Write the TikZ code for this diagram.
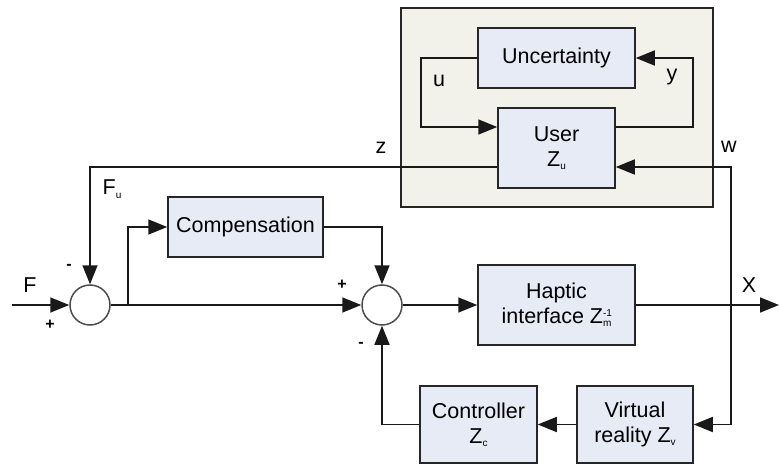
\documentclass[tikz,border=0pt]{standalone}
\usepackage{fontspec}
\setmainfont{Liberation Sans}
\usetikzlibrary{arrows.meta}
\definecolor{boxfill}{RGB}{230,235,246}
\definecolor{outerfill}{RGB}{242,242,234}
\newcommand{\mysb}[1]{\raisebox{-0.3ex}{\fontsize{10}{11}\selectfont #1}}
\newcommand{\mysbsp}[2]{\raisebox{-0.3ex}{\fontsize{10}{11}\selectfont\rlap{\raisebox{1.05em}{#2}}#1}}
\tikzset{
  blk/.style={draw=black!85, line width=1.5pt, fill=boxfill, inner sep=0pt, align=center, font=\fontsize{21.5}{25}\selectfont},
  sumnode/.style={circle, draw=black!70, line width=1.5pt, fill=white, minimum size=40pt, inner sep=0pt},
  conn/.style={draw=black!90, line width=1.6pt},
  arr/.style={conn, -{Triangle[length=19pt,width=15pt]}},
  lbl/.style={font=\fontsize{21.5}{25}\selectfont, inner sep=0pt},
  sgn/.style={font=\fontsize{16}{18}\selectfont\bfseries, inner sep=0pt}
}
\begin{document}
\begin{tikzpicture}[x=1pt,y=-1pt]
\useasboundingbox (0,0) rectangle (779,465);
\node[draw=black!85, line width=1.5pt, fill=outerfill, minimum width=312pt, minimum height=199pt, inner sep=0pt] (outer) at (557,107.5) {};
\node[blk, minimum width=157pt, minimum height=60pt] (unc) at (556.5,58) {Uncertainty};
\node[blk, minimum width=117pt, minimum height=80pt] (user) at (556.5,148) {User\\Z\mysb{u}};
\node[blk, minimum width=155pt, minimum height=60pt] (comp) at (245.5,227) {Compensation};
\node[blk, minimum width=157pt, minimum height=80pt] (hap) at (556.5,305) {Haptic\\interface Z\mysbsp{m}{-1}};
\node[blk, minimum width=117pt, minimum height=77pt] (ctrl) at (478.5,424.5) {Controller\\Z\mysb{c}};
\node[blk, minimum width=116pt, minimum height=77pt] (vr) at (635,424.5) {Virtual\\reality Z\mysb{v}};
\node[sumnode] (s1) at (90,305) {};
\node[sumnode] (s2) at (382,305) {};
\coordinate (fin) at (12,305);
\coordinate (xout) at (779,305);
\coordinate (zy) at (0,167);
\coordinate (uy) at (0,127);
\coordinate (ux) at (421,0);
\coordinate (yx) at (693,0);
\coordinate (wx) at (731,0);
\coordinate (bx) at (128,0);
\coordinate (tap) at (wx |- hap.east);
\coordinate (br) at (bx |- s1.east);
% u / y loop
\draw[arr] (unc.west) -| (ux |- uy) -- (user.west |- uy);
\draw[arr] (user.east |- uy) -| (yx |- unc.east) -- (unc.east);
% z
\draw[arr] (user.west |- zy) -| (s1.north);
% w
\draw[arr] (tap) |- (user.east |- zy);
\draw[arr] (tap) |- (vr.east);
% main path
\draw[arr] (fin) -- (s1.west);
\draw[arr] (s1.east) -- (s2.west);
\draw[arr] (br) |- (comp.west);
\draw[arr] (comp.east) -| (s2.north);
\draw[arr] (s2.east) -- (hap.west);
\draw[arr] (hap.east) -- (xout);
\draw[arr] (vr.west) -- (ctrl.east);
\draw[arr] (ctrl.west) -| (s2.south);
% labels
\node[lbl] (lu) at (439,81) {u};
\node[lbl] (ly) at (672,77) {y};
\node[lbl] (lz) at (381,148) {z};
\node[lbl] (lw) at (729,147) {w};
\node[lbl] (lfu) at (112,189) {F\mysb{u}};
\node[lbl] (lf) at (30,285) {F};
\node[lbl] (lx) at (749,285) {X};
\node[sgn] (p1) at (50,325) {+};
\node[sgn] (m1) at (69,267) {-};
\node[sgn] (p2) at (342,285) {+};
\node[sgn] (m2) at (361,345) {-};
\end{tikzpicture}
\end{document}
